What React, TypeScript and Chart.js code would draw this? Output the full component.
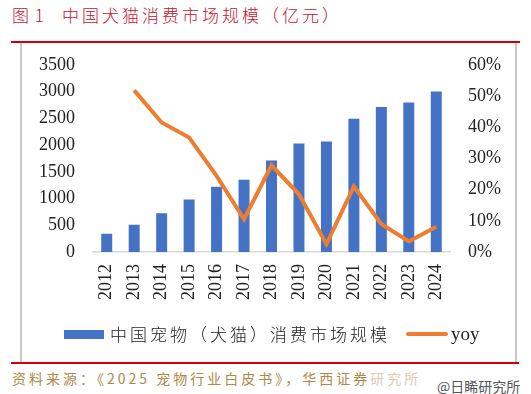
import React, { useEffect, useRef } from "react";
import { Chart, registerables } from "chart.js";

Chart.register(...registerables);

const categories = ["2012", "2013", "2014", "2015", "2016", "2017", "2018", "2019", "2020", "2021", "2022", "2023", "2024"];
const marketSize = [340, 510, 725, 980, 1220, 1350, 1710, 2030, 2065, 2490, 2710, 2795, 3000];
const yoyPct = [null, 51.8, 41.5, 36.7, 24.4, 10.5, 27.8, 18.5, 2.5, 21.0, 9.0, 3.4, 8.1];
const leftAxis = { min: 0, max: 3500, step: 500 };
const rightAxis = { min: 0, max: 60, step: 10 };

const barLabel = "中国宠物（犬猫）消费市场规模";
const lineLabel = "yoy";
const titlePrefix = "图 1";
const titleText = "中国犬猫消费市场规模（亿元）";
const sourceText = "资料来源：《2025 宠物行业白皮书》，华西证券";
const sourceFaded = "研究所";
const watermark = "@日睎研究所";

const BLUE = "#4472C4";
const ORANGE = "#ED7D31";
const TICK_FONT = { family: "'Liberation Serif', 'DejaVu Serif', serif", size: 18 };

export default function App() {
  const ref = useRef<HTMLCanvasElement | null>(null);

  useEffect(() => {
    if (!ref.current) return;
    const chart = new Chart(ref.current, {
      type: "bar",
      data: {
        labels: categories,
        datasets: [
          {
            type: "line",
            label: lineLabel,
            data: yoyPct,
            borderColor: ORANGE,
            backgroundColor: ORANGE,
            borderWidth: 4,
            pointRadius: 0,
            tension: 0,
            yAxisID: "y1",
            order: 1,
          } as any,
          {
            type: "bar",
            label: barLabel,
            data: marketSize,
            backgroundColor: BLUE,
            barPercentage: 0.4,
            categoryPercentage: 1,
            yAxisID: "y",
            order: 2,
          },
        ],
      },
      options: {
        animation: false,
        responsive: false,
        maintainAspectRatio: false,
        layout: { padding: { top: 14, bottom: 0, left: 0, right: 0 } },
        plugins: { legend: { display: false }, tooltip: { enabled: false }, title: { display: false } },
        scales: {
          x: {
            grid: { display: false, drawTicks: false },
            border: { display: true, color: "#d9d9d9", width: 1.5 },
            ticks: {
              font: TICK_FONT,
              color: "#222",
              autoSkip: false,
              maxRotation: 90,
              minRotation: 90,
              padding: 12,
            },
            afterFit: (s: any) => {
              s.height = 72;
            },
          },
          y: {
            position: "left",
            min: leftAxis.min,
            max: leftAxis.max,
            grid: { display: false, drawTicks: false },
            border: { display: false },
            ticks: {
              stepSize: leftAxis.step,
              font: TICK_FONT,
              color: "#222",
              padding: 18,
              callback: (v: any) => `${v}`,
            },
            afterFit: (s: any) => {
              s.width = 71;
            },
          },
          y1: {
            position: "right",
            min: rightAxis.min,
            max: rightAxis.max,
            grid: { display: false, drawTicks: false },
            border: { display: false },
            ticks: {
              stepSize: rightAxis.step,
              font: TICK_FONT,
              color: "#222",
              padding: 18,
              callback: (v: any) => `${v}%`,
            },
            afterFit: (s: any) => {
              s.width = 66;
            },
          },
        },
      },
    });
    return () => chart.destroy();
  }, []);

  const cjk = "'Noto Sans CJK SC', 'Noto Sans', sans-serif";
  const titleStyle: React.CSSProperties = {
    position: "absolute",
    top: 3,
    fontFamily: cjk,
    fontSize: 17,
    fontWeight: 300,
    letterSpacing: 3,
    color: "#C8102E",
    whiteSpace: "nowrap",
    lineHeight: "24px",
  };

  return (
    <div style={{ position: "fixed", left: 0, top: 0, width: 531, height: 394, background: "#fff", overflow: "hidden" }}>
      <div style={{ ...titleStyle, left: 12, letterSpacing: 1 }}>{titlePrefix}</div>
      <div style={{ ...titleStyle, left: 62 }}>{titleText}</div>
      <div style={{ position: "absolute", left: 11, top: 41, width: 509, height: 2, background: "#D0000B" }} />
      <div style={{ position: "absolute", left: 20, top: 43, width: 2, height: 319, background: "#c8c8c8" }} />
      <div style={{ position: "absolute", left: 515, top: 43, width: 2, height: 319, background: "#c8c8c8" }} />
      <div style={{ position: "absolute", left: 11, top: 362, width: 508, height: 2, background: "#D0000B" }} />
      <canvas ref={ref} width={494} height={288} style={{ position: "absolute", left: 22, top: 36, width: 494, height: 288 }} />
      <div style={{ position: "absolute", left: 64, top: 330, width: 40, height: 9, background: BLUE }} />
      <div
        style={{
          position: "absolute",
          left: 110,
          top: 322,
          fontFamily: cjk,
          fontSize: 17,
          fontWeight: 300,
          letterSpacing: 3,
          color: "#222",
          whiteSpace: "nowrap",
          lineHeight: "24px",
        }}
      >
        {barLabel}
      </div>
      <div style={{ position: "absolute", left: 406, top: 332, width: 42, height: 4, borderRadius: 2, background: ORANGE }} />
      <div
        style={{
          position: "absolute",
          left: 451,
          top: 322,
          fontFamily: "'Liberation Serif', serif",
          fontSize: 19,
          color: "#222",
          whiteSpace: "nowrap",
          lineHeight: "24px",
        }}
      >
        {lineLabel}
      </div>
      <div
        style={{
          position: "absolute",
          left: 12,
          top: 367,
          fontFamily: cjk,
          fontSize: 14,
          letterSpacing: 3,
          color: "#B08848",
          whiteSpace: "nowrap",
          lineHeight: "22px",
        }}
      >
        {sourceText}
        <span style={{ color: "#dccbb3" }}>{sourceFaded}</span>
      </div>
      <div
        style={{
          position: "absolute",
          left: 437,
          top: 376,
          fontFamily: cjk,
          fontSize: 14,
          color: "#555",
          whiteSpace: "nowrap",
          lineHeight: "20px",
        }}
      >
        {watermark}
      </div>
    </div>
  );
}
